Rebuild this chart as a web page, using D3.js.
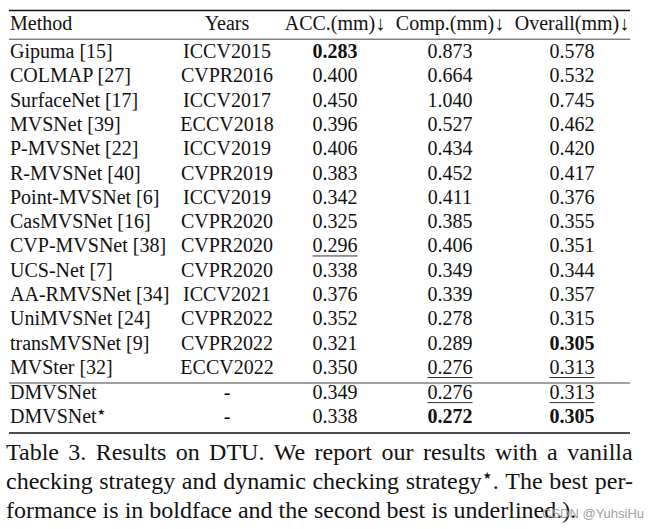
<!DOCTYPE html>
<html>
<head>
<meta charset="utf-8">
<script src="https://cdn.jsdelivr.net/npm/d3@7"></script>
<style>
  html, body { margin: 0; padding: 0; background: #fff; }
  svg { display: block; }
</style>
</head>
<body>
<svg id="chart" width="650" height="529"></svg>
<script>
// ---------- data ----------
const headers = ["Method", "Years", "ACC.(mm)↓", "Comp.(mm)↓", "Overall(mm)↓"];
const methods = ["Gipuma [15]", "COLMAP [27]", "SurfaceNet [17]", "MVSNet [39]", "P-MVSNet [22]",
  "R-MVSNet [40]", "Point-MVSNet [6]", "CasMVSNet [16]", "CVP-MVSNet [38]", "UCS-Net [7]",
  "AA-RMVSNet [34]", "UniMVSNet [24]", "transMVSNet [9]", "MVSter [32]", "DMVSNet", "DMVSNet"];
const starred = [false,false,false,false,false,false,false,false,false,false,false,false,false,false,false,true];
const years = ["ICCV2015","CVPR2016","ICCV2017","ECCV2018","ICCV2019","CVPR2019","ICCV2019",
  "CVPR2020","CVPR2020","CVPR2020","ICCV2021","CVPR2022","CVPR2022","ECCV2022","-","-"];
const acc = [0.283,0.400,0.450,0.396,0.406,0.383,0.342,0.325,0.296,0.338,0.376,0.352,0.321,0.350,0.349,0.338];
const comp = [0.873,0.664,1.040,0.527,0.434,0.452,0.411,0.385,0.406,0.349,0.339,0.278,0.289,0.276,0.276,0.272];
const overall = [0.578,0.532,0.745,0.462,0.420,0.417,0.376,0.355,0.351,0.344,0.357,0.315,0.305,0.313,0.313,0.305];
const captionLines = [
  ["Table", "3.", "Results", "on", "DTU.", "We", "report", "our", "results", "with", "a", "vanilla"],
  ["checking", "strategy", "and", "dynamic", "checking", "strategy★.", "The", "best", "per-"],
  ["formance", "is", "in", "boldface", "and", "the", "second", "best", "is", "underlined.)."]
];
const watermark = "CSDN @YuhsiHu";
const STAR = "★";

// ---------- layout ----------
const SERIF = "'Liberation Serif', 'Times New Roman', serif";
const SYM = "'DejaVu Sans', sans-serif";
const svg = d3.select("#chart");
const left = 9, right = 630;
const nMain = 14;
const y = d3.scaleLinear().domain([0, 13]).range([58, 374]);
const rowY = i => y(i) + (i >= nMain ? 0.8 : 0);
const colX = d3.scaleOrdinal().domain(["method","years","acc","comp","overall"])
  .range([10, 227, 335, 450, 572]);
const fmt = d3.format(".3f");
const fs = 20;

// rules
const rules = [
  {y: 10.5, w: 1.4, c: "#111"},
  {y: 39.2, w: 1.0, c: "#444"},
  {y: 383, w: 1.0, c: "#444"},
  {y: 433, w: 1.6, c: "#111"}
];
svg.selectAll("line.rule").data(rules).join("line")
  .attr("class", "rule")
  .attr("x1", left).attr("x2", right)
  .attr("y1", d => d.y).attr("y2", d => d.y)
  .attr("stroke", d => d.c).attr("stroke-width", d => d.w);

// header
const hdrKeys = ["method","years","acc","comp","overall"];
svg.selectAll("text.hdr").data(headers).join("text")
  .attr("class", "hdr")
  .attr("x", (d, i) => colX(hdrKeys[i]))
  .attr("y", 30)
  .attr("text-anchor", (d, i) => i === 0 ? "start" : "middle")
  .style("font-family", SERIF).style("font-size", fs + "px").style("fill", "#111")
  .text(d => d);

// rows
const rows = methods.map((m, i) => ({i, m, star: starred[i], yr: years[i], acc: acc[i], comp: comp[i], overall: overall[i]}));

const g = svg.append("g");
const mt = g.selectAll("text.method").data(rows).join("text")
  .attr("class", "method")
  .attr("x", colX("method"))
  .attr("y", d => rowY(d.i))
  .style("font-family", SERIF).style("font-size", fs + "px").style("fill", "#111");
mt.append("tspan").text(d => d.m);
mt.filter(d => d.star).append("tspan")
  .attr("dx", 0.5).attr("dy", -8)
  .style("font-family", SYM).style("font-size", "9px")
  .text(STAR);

g.selectAll("text.year").data(rows).join("text")
  .attr("class", "year")
  .attr("x", colX("years"))
  .attr("y", d => rowY(d.i))
  .attr("text-anchor", "middle")
  .style("font-family", SERIF).style("font-size", fs + "px").style("fill", "#111")
  .text(d => d.yr);

// numeric columns: best = bold, second best = underlined (derived from values)
["acc","comp","overall"].forEach(key => {
  const vals = rows.map(r => r[key]);
  const uniq = Array.from(new Set(vals)).sort(d3.ascending);
  const best = uniq[0], second = uniq[1];
  const cells = g.selectAll("text.c-" + key).data(rows).join("text")
    .attr("class", "c-" + key)
    .attr("x", colX(key))
    .attr("y", d => rowY(d.i))
    .attr("text-anchor", "middle")
    .style("font-family", SERIF).style("font-size", fs + "px").style("fill", "#111")
    .style("font-weight", d => d[key] === best ? "bold" : "normal")
    .text(d => fmt(d[key]));
  cells.each(function(d) {
    if (d[key] === second) {
      const w = this.getComputedTextLength();
      g.append("line")
        .attr("x1", colX(key) - w / 2).attr("x2", colX(key) + w / 2)
        .attr("y1", rowY(d.i) + 3.5).attr("y2", rowY(d.i) + 3.5)
        .attr("stroke", "#333").attr("stroke-width", 1);
    }
  });
});

// caption (justified)
const capFs = 24;
const capLeft = 6, capRight = 633;
const capY = d3.scaleLinear().domain([0, 2]).range([460, 518]);
const cap = svg.append("g").attr("class", "caption");
captionLines.forEach((words, li) => {
  const nodes = words.map(w => {
    const t = cap.append("text").attr("y", capY(li))
      .style("font-family", SERIF).style("font-size", capFs + "px").style("fill", "#111");
    if (w.includes(STAR)) {
      const parts = w.split(STAR);
      t.append("tspan").text(parts[0]);
      t.append("tspan").attr("dx", 1).attr("dy", -10)
        .style("font-family", SYM).style("font-size", "10px").text(STAR);
      t.append("tspan").attr("dx", 1).attr("dy", 10).text(parts[1]);
    } else {
      t.text(w);
    }
    return t;
  });
  const widths = nodes.map(t => t.node().getBBox().width);
  const total = d3.sum(widths);
  const justify = li < captionLines.length - 1;
  const gap = justify ? (capRight - capLeft - total) / (words.length - 1) : capFs * 0.25;
  let x = capLeft;
  nodes.forEach((t, k) => { t.attr("x", x); x += widths[k] + gap; });
});

// watermark
svg.append("text")
  .attr("x", 542).attr("y", 518)
  .style("font-family", "'Liberation Sans', Arial, sans-serif")
  .style("font-size", "13px")
  .style("fill", "#a0a0a0")
  .text(watermark);
</script>
</body>
</html>
